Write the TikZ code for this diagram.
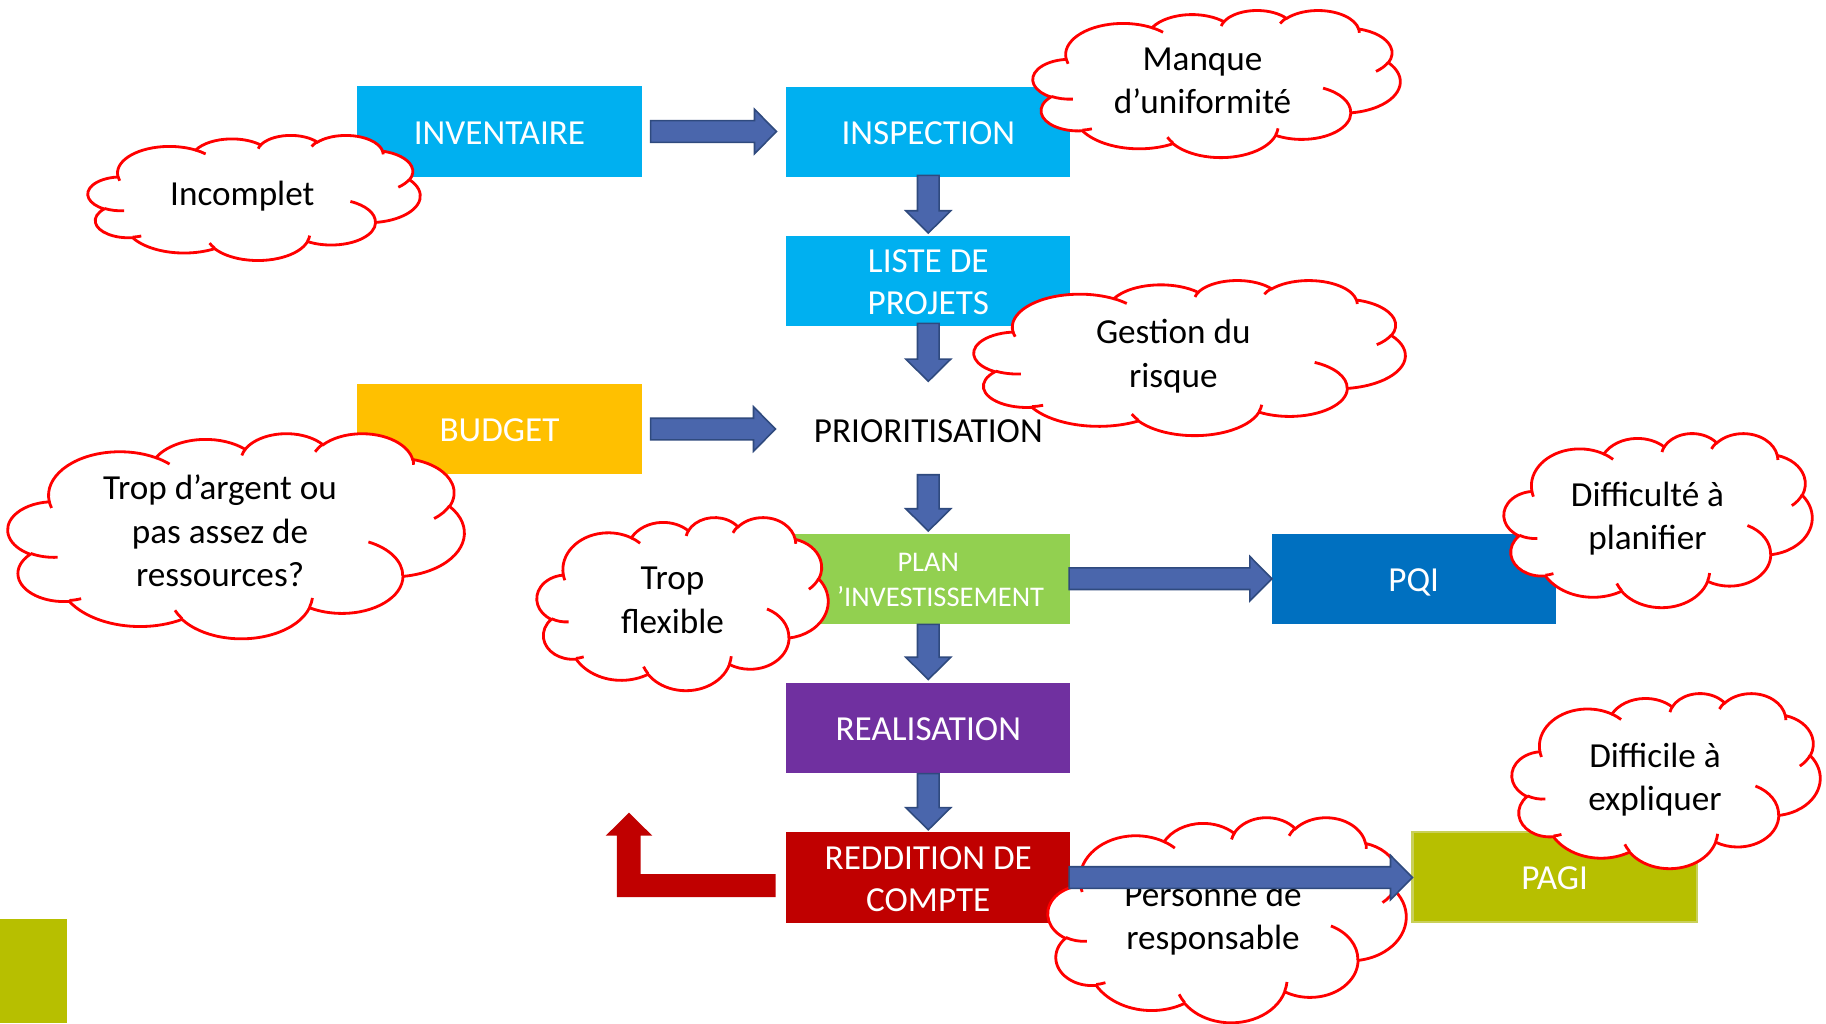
\documentclass[tikz,border=0pt]{standalone}
\usepackage{fontspec}
\setmainfont{Carlito}
\usetikzlibrary{calc}

\definecolor{cyanbox}{HTML}{00B0F0}
\definecolor{budgetbox}{HTML}{FFC000}
\definecolor{planbox}{HTML}{92D050}
\definecolor{pqibox}{HTML}{0070C0}
\definecolor{realbox}{HTML}{7030A0}
\definecolor{redbox}{HTML}{C00000}
\definecolor{olivebox}{HTML}{B7BF00}
\definecolor{olivelight}{HTML}{C9D05A}
\definecolor{arrowfill}{HTML}{4A66AC}
\definecolor{arrowline}{HTML}{2F4A7E}
\definecolor{cloudred}{HTML}{FF0000}

% Parametric start angle and sweep of an elliptic arc given by its
% visual start angle and sweep (cloud outline on a 43.2 x 43.2 grid)
\newcommand\setarc[5]{%
  \pgfmathsetmacro\tmpS{atan2((#2)*sin(#4),(#3)*cos(#4))}%
  \pgfmathsetmacro\tmpE{atan2((#2)*sin((#4)+(#5)),(#3)*cos((#4)+(#5)))}%
  \pgfmathsetmacro\tmpD{mod(\tmpE-\tmpS+720,360)}%
  \expandafter\let\csname kS#1\endcsname\tmpS
  \expandafter\let\csname kD#1\endcsname\tmpD}
% outer lobes
\setarc{a}{6.753}{9.19}{-190.48748}{123.78053}
\setarc{b}{5.333}{7.267}{-144.10238}{89.94523}
\setarc{c}{4.365}{5.945}{-145.80792}{99.72302}
\setarc{d}{4.857}{6.595}{-130.98607}{117.24173}
\setarc{e}{5.333}{7.273}{-78.70888}{109.02692}
\setarc{f}{6.775}{9.22}{-46.26725}{130.269}
\setarc{g}{5.785}{7.867}{0.62502}{114.03333}
\setarc{h}{6.752}{9.215}{22.4516}{115.17255}
\setarc{i}{7.72}{10.543}{66.24263}{75.71102}
\setarc{j}{4.36}{5.918}{-274.94208}{146.73557}
\setarc{k}{4.345}{5.945}{-246.8285}{152.51885}
% inner creases
\setarc{m}{4.345}{5.945}{86.742}{26.4295}
\setarc{n}{4.36}{5.918}{73.61047}{11.44747}
\setarc{o}{6.752}{9.215}{137.62415}{14.0811}
\setarc{p}{6.752}{9.215}{6.45327}{15.99835}
\setarc{q}{5.785}{7.867}{-70.29235}{70.91737}
\setarc{r}{5.333}{7.273}{30.31803}{27.7515}
\setarc{s}{4.857}{6.595}{-13.74433}{14.8589}
\setarc{t}{4.857}{6.595}{-149.18145}{18.19537}
\setarc{u}{4.365}{5.945}{-163.49427}{17.68635}
\setarc{v}{6.753}{9.19}{-66.70695}{12.31935}
\setarc{w}{6.753}{9.19}{157.65435}{11.85817}

% cloud: left, top, width, height (picture units)
\newcommand\cloudshape[4]{%
  \begin{scope}[shift={(#1,#2)}, x=1cm, y=1cm, xscale=#3/4320, yscale=-#4/4320]
    \filldraw[cloudline, fill=white] (3.9,14.37)
      arc[x radius=6.753, y radius=9.19, start angle=\kSa, delta angle=\kDa]
      arc[x radius=5.333, y radius=7.267, start angle=\kSb, delta angle=\kDb]
      arc[x radius=4.365, y radius=5.945, start angle=\kSc, delta angle=\kDc]
      arc[x radius=4.857, y radius=6.595, start angle=\kSd, delta angle=\kDd]
      arc[x radius=5.333, y radius=7.273, start angle=\kSe, delta angle=\kDe]
      arc[x radius=6.775, y radius=9.22, start angle=\kSf, delta angle=\kDf]
      arc[x radius=5.785, y radius=7.867, start angle=\kSg, delta angle=\kDg]
      arc[x radius=6.752, y radius=9.215, start angle=\kSh, delta angle=\kDh]
      arc[x radius=7.72, y radius=10.543, start angle=\kSi, delta angle=\kDi]
      arc[x radius=4.36, y radius=5.918, start angle=\kSj, delta angle=\kDj]
      arc[x radius=4.345, y radius=5.945, start angle=\kSk, delta angle=\kDk]
      -- cycle;
    \draw[cloudline]
      (4.693,26.177) arc[x radius=4.345, y radius=5.945, start angle=\kSm, delta angle=\kDm]
      (6.928,34.899) arc[x radius=4.36, y radius=5.918, start angle=\kSn, delta angle=\kDn]
      (16.478,39.09) arc[x radius=6.752, y radius=9.215, start angle=\kSo, delta angle=\kDo]
      (28.827,34.751) arc[x radius=6.752, y radius=9.215, start angle=\kSp, delta angle=\kDp]
      (34.129,22.954) arc[x radius=5.785, y radius=7.867, start angle=\kSq, delta angle=\kDq]
      (41.798,15.354) arc[x radius=5.333, y radius=7.273, start angle=\kSr, delta angle=\kDr]
      (38.324,5.426) arc[x radius=4.857, y radius=6.595, start angle=\kSs, delta angle=\kDs]
      (29.078,3.952) arc[x radius=4.857, y radius=6.595, start angle=\kSt, delta angle=\kDt]
      (22.141,4.72) arc[x radius=4.365, y radius=5.945, start angle=\kSu, delta angle=\kDu]
      (14.0,5.192) arc[x radius=6.753, y radius=9.19, start angle=\kSv, delta angle=\kDv]
      (4.127,15.789) arc[x radius=6.753, y radius=9.19, start angle=\kSw, delta angle=\kDw];
  \end{scope}}

% horizontal block arrow: from node, to node, start shift, tip shift
\newcommand\harrow[4]{%
  \draw[blockarrow] let \p1=($(#1.east)+(#3,0)$), \p2=($(#2.west)+(#4,0)$) in
    (\x1,\y1+0.108cm) -- (\x2-0.22cm,\y1+0.108cm) -- (\x2-0.22cm,\y1+0.222cm)
    -- (\x2,\y1) -- (\x2-0.22cm,\y1-0.222cm) -- (\x2-0.22cm,\y1-0.108cm)
    -- (\x1,\y1-0.108cm) -- cycle;}
% vertical block arrow, downwards
\newcommand\varrow[4]{%
  \draw[blockarrow] let \p1=($(#1.south)+(0,#3)$), \p2=($(#2.north)+(0,#4)$) in
    (\x1-0.108cm,\y1) -- (\x1-0.108cm,\y2+0.222cm) -- (\x1-0.225cm,\y2+0.222cm)
    -- (\x1,\y2) -- (\x1+0.225cm,\y2+0.222cm) -- (\x1+0.108cm,\y2+0.222cm)
    -- (\x1+0.108cm,\y1) -- cycle;}

% invisible strut that sets the top of the first line in the boxes
\newcommand\toprule{\rule{0pt}{0.253cm}}

\begin{document}
\begin{tikzpicture}[x=0.01cm, y=-0.01cm,
  box/.style={rectangle, minimum width=2.84cm, minimum height=0.9cm, inner sep=0pt,
    text depth=0pt, text=white, align=center, font=\fontsize{10}{12}\selectfont},
  note/.style={align=center, text=black, inner sep=0pt,
    font=\fontsize{10}{12.4}\selectfont},
  blockarrow/.style={fill=arrowfill, draw=arrowline, line width=0.45pt, line join=miter},
  cloudline/.style={draw=cloudred, line width=0.8pt}]
\useasboundingbox (0,0) rectangle (1826,1023);

% corner tab
\fill[olivebox] (0,919) rectangle (67,1023);

% process boxes
\node[box, fill=cyanbox] (inv) at (499.5,131.5) {\toprule INVENTAIRE};
\node[box, fill=cyanbox] (insp) at (928.3,131.7) {\toprule INSPECTION};
\node[box, fill=cyanbox] (liste) at (928.3,280.7) {\toprule LISTE DE\\PROJETS};
\node[box, fill=budgetbox] (budget) at (499.5,429) {\toprule BUDGET};
\node[box, text=black] (prio) at (928.3,430) {\toprule PRIORITISATION};
\node[box, fill=planbox, font=\fontsize{8.1}{9.96}\selectfont] (plan) at (928.3,578.7)
  {\rule{0pt}{0.21cm}PLAN\\D\kern0.07cm’INVESTISSEMENT};
\node[box, fill=pqibox] (pqi) at (1413.7,578.7) {\toprule PQI};
\node[box, fill=realbox] (real) at (928.3,727.8) {\toprule REALISATION};
\node[box, fill=redbox] (redd) at (928.3,877.5) {\toprule REDDITION DE\\COMPTE};
\node[box, fill=olivebox, draw=olivelight, line width=0.6pt] (pagi) at (1554.6,877.3) {\toprule PAGI};

% flow arrows
\harrow{inv}{insp}{8.4}{-9}
\varrow{insp}{liste}{-2}{-2}
\varrow{liste}{prio}{-3}{-3}
\harrow{budget}{prio}{8.4}{-10}
\varrow{prio}{plan}{-1}{-2}
\harrow{plan}{pqi}{-2}{1}
\varrow{plan}{real}{0}{-2.6}
\varrow{real}{redd}{0}{-2}

% feedback arrow
\coordinate (retstart) at ($(redd.west)+(-10,8)$);
\coordinate (rettip) at (629,812.7);
\fill[redbox] let \p1=(retstart), \p2=(rettip) in
  (\x1,\y1+0.115cm) -- (\x2+0.117cm,\y1+0.115cm) -- (\x2+0.117cm,\y2-0.23cm)
  -- (\x2+0.233cm,\y2-0.23cm) -- (\x2,\y2) -- (\x2-0.233cm,\y2-0.23cm)
  -- (\x2-0.12cm,\y2-0.23cm) -- (\x2-0.12cm,\y1-0.115cm) -- (\x1,\y1-0.115cm) -- cycle;

% remarks
\cloudshape{88}{135}{332}{125}
\node[note] (n1) at (242.3,196.5) {Incomplet};
\cloudshape{1033}{10}{367}{147}
\node[note] (n2) at (1202.5,80.7) {Manque\\d’uniformité};
\cloudshape{974}{280}{431}{155}
\node[note] (n3) at (1173.3,356.4) {Gestion du\\risque};
\cloudshape{8}{433}{456}{205}
\node[note] (n4) at (220,530.8) {Trop d’argent ou\\pas assez de\\ressources?};
\cloudshape{537}{517}{291}{173}
\node[note] (n5) at (672.5,600.3) {Trop\\flexible};
\cloudshape{1504}{433}{308}{174}
\node[note] (n6) at (1647.5,518.5) {Difficulté à\\planifier};
\cloudshape{1512}{693}{308}{175}
\node[note] (n7) at (1655,779.5) {Difficile à\\expliquer};
\cloudshape{1048}{817}{358}{205}
\node[note] (n8) at (1213,918.5) {Personne de\\responsable};

\harrow{redd}{pagi}{-2}{1}
\end{tikzpicture}
\end{document}
